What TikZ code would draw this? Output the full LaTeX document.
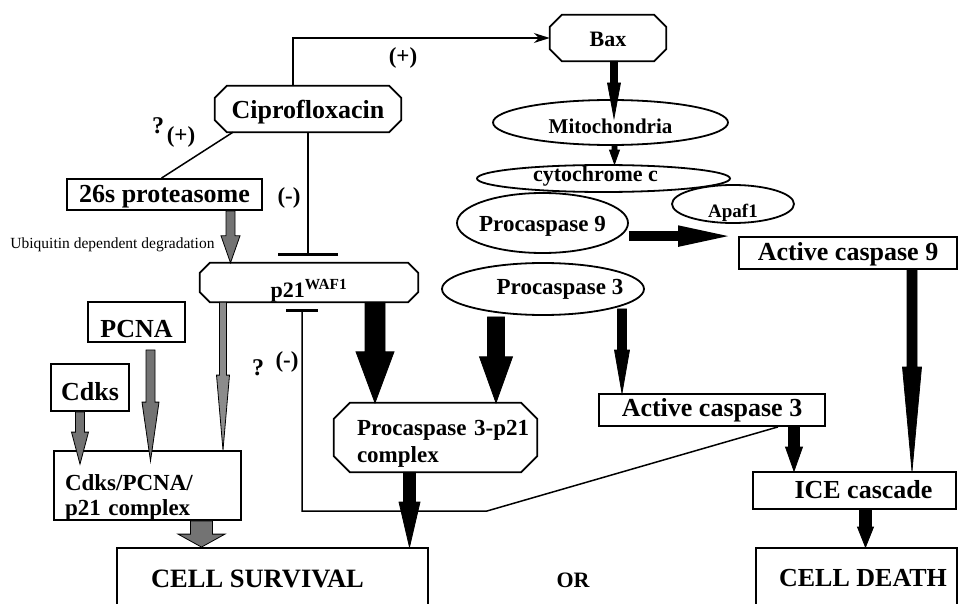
\documentclass[tikz,border=0pt]{standalone}
\usepackage{fontspec}
\setmainfont{Liberation Serif}
\usetikzlibrary{arrows.meta,shapes.geometric,calc}

\newcommand{\fsz}[1]{\fontsize{#1}{#1}\selectfont}
% fat vertical arrow: fill, from, to, shaft, head width, head length
\newcommand{\fatarrow}[6][black]{%
  \filldraw[fill=#1, draw=black, line width=0.8pt] let \p1=#2, \p2=#3 in
    (\x1-#4/2,\y1) -- (\x1-#4/2,\y2+#6) -- (\x1-#5/2,\y2+#6) -- (\x1,\y2)
    -- (\x1+#5/2,\y2+#6) -- (\x1+#4/2,\y2+#6) -- (\x1+#4/2,\y1) -- cycle;}

\begin{document}
\begin{tikzpicture}[x=1pt,y=-1pt,
    box/.style={draw,rectangle,line width=1.8pt,inner sep=0pt,font=\bfseries\fsz{26}},
    oval/.style={draw,ellipse,line width=1.8pt,inner xsep=-20pt,inner ysep=-4pt,font=\bfseries\fsz{23}},
    octo/.style={rectangle,inner sep=0pt,font=\bfseries\fsz{26},
      append after command={\pgfextra{\draw[line width=1.8pt]
        ([xshift=#1]\tikzlastnode.north west) -- ([xshift=-#1]\tikzlastnode.north east)
        -- ([yshift=-#1]\tikzlastnode.north east) -- ([yshift=#1]\tikzlastnode.south east)
        -- ([xshift=-#1]\tikzlastnode.south east) -- ([xshift=#1]\tikzlastnode.south west)
        -- ([yshift=#1]\tikzlastnode.south west) -- ([yshift=-#1]\tikzlastnode.north west) -- cycle;}}},
    bl/.style={text height=#1pt,text depth=0pt},
    lbl/.style={inner sep=0pt,font=\bfseries\fsz{23}},
    link/.style={line width=1.5pt}]
    \clip (0,0) rectangle (958,604);

    % nodes
    \node[octo=12pt,minimum width=116,minimum height=46,bl=18,font=\bfseries\fsz{22}] (bax) at (608,38) {Bax};
    \node[octo=12pt,minimum width=186,minimum height=46,bl=20] (cipro) at (308,109) {Ciprofloxacin};
    \node[box,minimum width=195,minimum height=31,bl=17] (prot) at (164.5,194.5) {26s proteasome};
    \node[oval,minimum width=235,minimum height=45,bl=23,font=\bfseries\fsz{21}] (mito) at (610.5,122.5) {Mitochondria};
    \node[oval,minimum width=253,minimum height=27,bl=7,font=\bfseries\fsz{22}] (cyto) at (603.5,178.5) {cytochrome c\hspace*{16pt}};
    \node[oval,minimum width=122,minimum height=38,bl=28,font=\bfseries\fsz{19}] (apaf) at (733,204) {Apaf1};
    \node[oval,minimum width=171,minimum height=60,bl=18] (pc9) at (542.5,223) {Procaspase 9};
    \node[oval,minimum width=202,minimum height=52,bl=10] (pc3) at (543,289) {\hspace*{34pt}Procaspase 3};
    \node[box,minimum width=218,minimum height=32,bl=14] (ac9) at (848,253) {Active caspase 9};
    \node[octo=10pt,minimum width=218,minimum height=39,bl=29,font=\bfseries\fsz{22}] (p21) at (309,282.5) {p21\textsuperscript{WAF1}};
    \node[octo=16pt,minimum width=203,minimum height=69,text width=157pt,align=left,
      text height=25pt,text depth=30pt,font=\bfseries\fontsize{23}{27}\selectfont] (pc3p21) at (435.5,437.5)
      {\mbox{Procaspase 3-p21}\\complex};
    \node[box,minimum width=226,minimum height=32,bl=12] (ac3) at (712,410) {Active caspase 3};
    \node[box,minimum width=203,minimum height=37,bl=15] (ice) at (854.5,490.5) {\hspace*{18pt}ICE cascade};
    \node[box,minimum width=201,minimum height=64,bl=12] (death) at (856.5,580) {\hspace*{13pt}CELL DEATH};
    \node[box,minimum width=311,minimum height=64,bl=14,font=\bfseries\fsz{26.5}] (surv) at (272.5,580) {CELL SURVIVAL\hspace*{30pt}};
    \node[box,minimum width=97,minimum height=40,bl=30] (pcna) at (136.5,322) {PCNA};
    \node[box,minimum width=78,minimum height=47,bl=25] (cdks) at (90,387.5) {Cdks};
    \node[box,minimum width=187,minimum height=69,text width=165pt,align=left,
      text height=30pt,text depth=21pt,font=\bfseries\fontsize{23}{25}\selectfont] (cplx) at (147.5,485.5)
      {Cdks/PCNA/\\p21 complex};
    \node[lbl,font=\bfseries\fsz{22}] (or) at (573,580) {OR};
    \node[inner sep=0pt,font=\fsz{15.5}] (ubiq) at (112.5,245) {Ubiquitin dependent degradation};

    % signs
    \node[lbl] (plusbax) at (403,58) {(+)};
    \node[lbl,font=\bfseries\fsz{24}] (qprot) at (158,126) {?};
    \node[lbl] (plusprot) at (181,137) {(+)};
    \node[lbl] (minusp21) at (289,198) {(-)};
    \node[lbl,font=\bfseries\fsz{24}] (qloop) at (258,368) {?};
    \node[lbl] (minusloop) at (287,362) {(-)};

    % thin links
    \draw[link,-{Stealth[length=16pt,width=10pt]}] ([xshift=-15pt]cipro.north) |- (bax.west);
    \draw[link] ([xshift=-75pt]cipro.south) -- ([xshift=-3pt]prot.north);
    \draw[link,-{Bar[width=60pt,line width=2.5pt]},shorten >=7pt] (cipro.south) -- (cipro.south |- p21.north);
    \draw[link,-{Bar[width=32pt,line width=2.5pt]},shorten >=7pt] ([xshift=66pt]ac3.south) -- (487,511) -| ([xshift=-7pt]p21.south);

    % black arrows
    \fatarrow{([xshift=6pt]bax.south)}{([yshift=4.5pt]mito.center)}{7pt}{13pt}{35pt}
    \fatarrow{([xshift=4pt]mito.south)}{(cyto.north)}{5pt}{10pt}{14pt}
    \draw[line width=10pt,-{Triangle[width=18pt,length=60pt]}] (pc9.east |- ac9.north) -- (ac9.north west);
    \fatarrow{([xshift=64pt]ac9.south)}{(ice.north)}{10pt}{19pt}{104pt}
    \fatarrow{([xshift=66pt]p21.south)}{(pc3p21.north)}{20pt}{38pt}{51pt}
    \fatarrow{([xshift=-47pt,yshift=-1pt]pc3.south)}{(pc3p21.north)}{17pt}{33pt}{46pt}
    \fatarrow{([xshift=79pt,yshift=7pt]pc3.south)}{(ac3.north)}{9pt}{15pt}{43pt}
    \fatarrow{([xshift=82pt]ac3.south)}{(ice.north)}{11pt}{17pt}{24pt}
    \fatarrow{([xshift=11pt]ice.south)}{(death.north)}{12pt}{16pt}{20pt}
    \fatarrow{([xshift=-26pt]pc3p21.south)}{(surv.north)}{12pt}{21pt}{45pt}

    % grey arrows
    \fatarrow[black!55]{([xshift=66pt]prot.south)}{(p21.north)}{9pt}{19pt}{27pt}
    \fatarrow[black!45]{([xshift=-86pt]p21.south)}{(cplx.north)}{7pt}{13pt}{75pt}
    \fatarrow[black!55]{([xshift=14pt,yshift=-7pt]pcna.south)}{([yshift=-11pt]cplx.north)}{9pt}{17pt}{59pt}
    \fatarrow[black!55]{([xshift=-10pt]cdks.south)}{([yshift=-14pt]cplx.north)}{9pt}{17pt}{32pt}
    \fatarrow[black!55]{([xshift=54pt]cplx.south)}{(surv.north)}{22pt}{47pt}{13pt}
\end{tikzpicture}
\end{document}
